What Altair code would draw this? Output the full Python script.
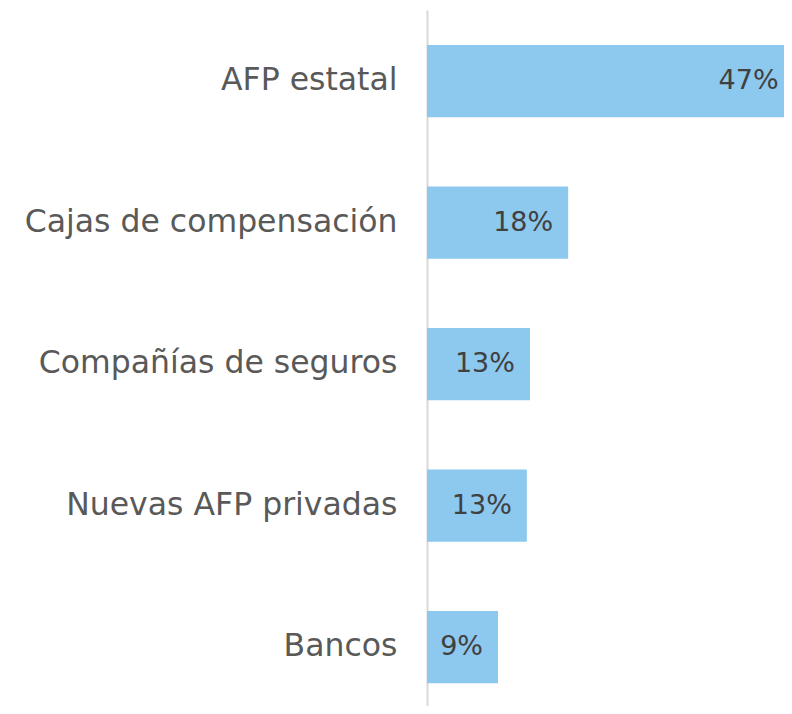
import altair as alt
import pandas as pd

categories = ["AFP estatal", "Cajas de compensación", "Compañías de seguros", "Nuevas AFP privadas", "Bancos"]
values = [47.0, 18.1, 13.2, 12.8, 9.1]
labels = ["47%", "18%", "13%", "13%", "9%"]

df = pd.DataFrame({"cat": categories, "val": values, "lab": labels})

FONT = "DejaVu Sans"

y = alt.Y("cat:N", sort=categories, title=None,
          scale=alt.Scale(paddingInner=0.49, paddingOuter=0.2044, align=0.606),
          axis=alt.Axis(domainColor="#d9d9d9", domainWidth=2, ticks=False,
                        labelFontSize=31.5, labelColor="#595959", labelFont=FONT,
                        labelFontWeight="normal",
                        labelPadding=30, labelLimit=600))
x = alt.X("val:Q", title=None, axis=None,
          scale=alt.Scale(domain=[0, 45.77], nice=False, zero=True))

bars = alt.Chart(df).mark_bar(color="#8DC8EF", clip=True).encode(x=x, y=y)
text = alt.Chart(df).mark_text(align="right", baseline="middle", dx=-15,
                               fontSize=27, font=FONT, color="#404040").encode(
    x=x, y=alt.Y("cat:N", sort=categories), text="lab:N")

chart = (bars + text).properties(
    width=357, height=696,
    autosize=alt.AutoSizeParams(type="none"),
    padding={"left": 419, "top": 2, "right": 0, "bottom": 0},
).configure_view(stroke=None)

chart.save("out.html", embed_options={"renderer": "svg", "actions": False})
